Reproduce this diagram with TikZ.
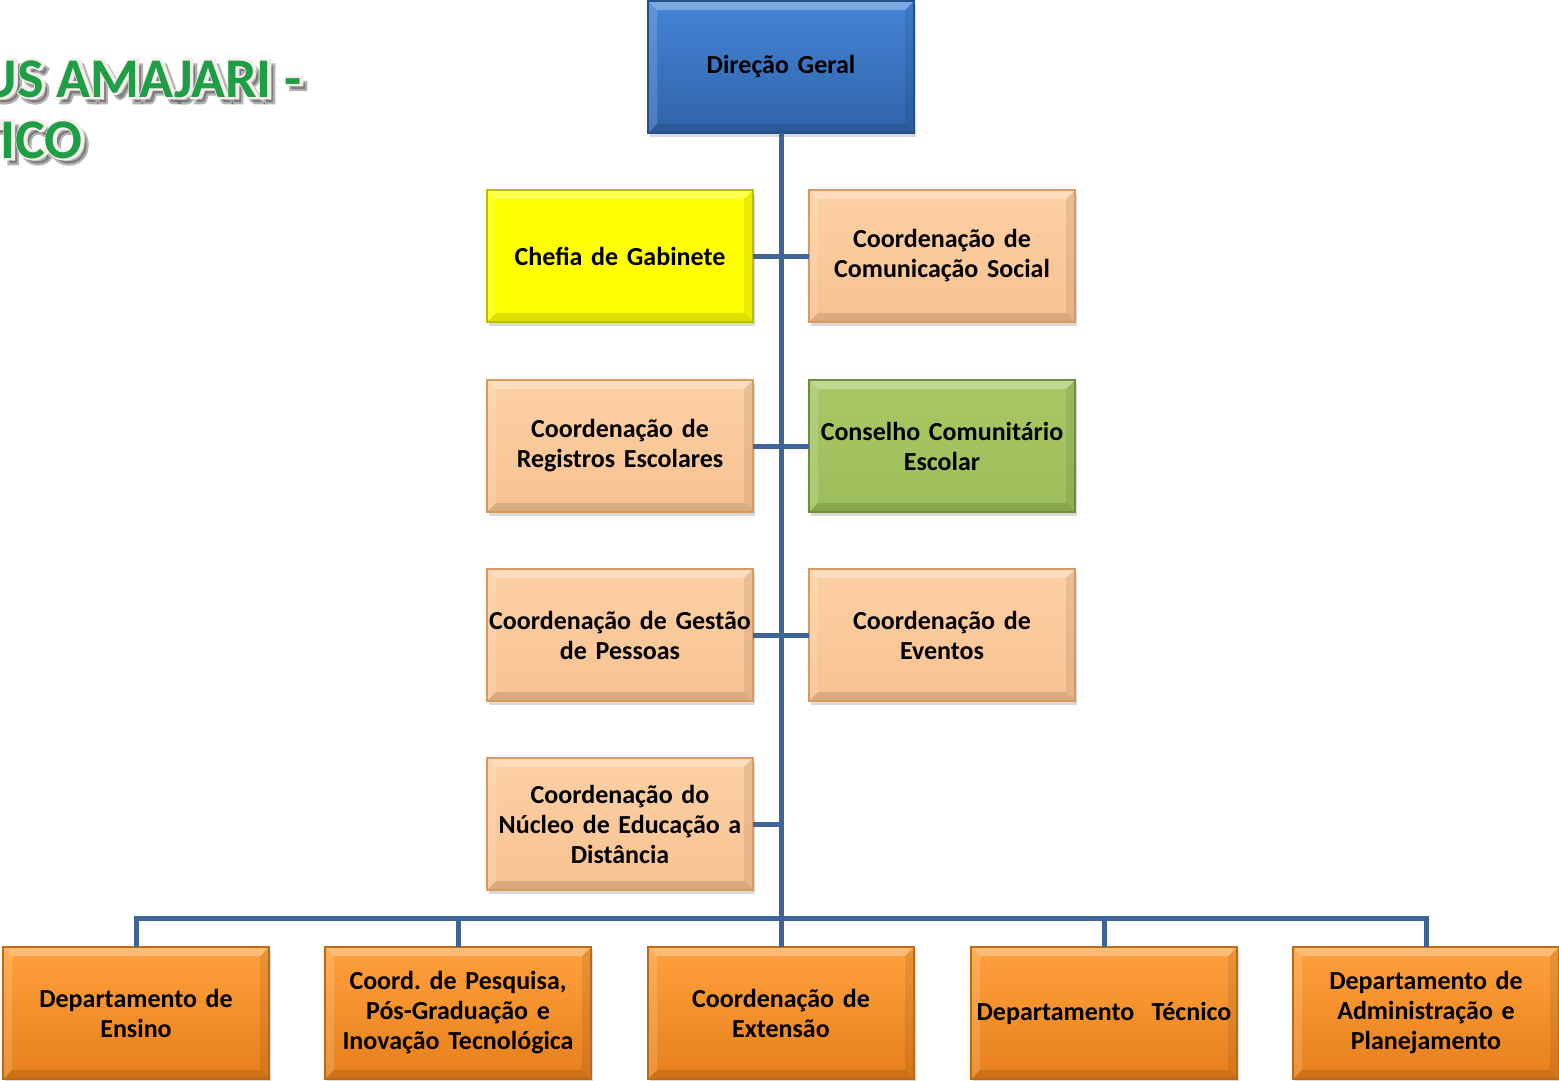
\documentclass[tikz,border=0pt]{standalone}
\usepackage{fontspec}
\setmainfont{Carlito}
\newfontfamily\titulofont[FakeBold=8]{Carlito Bold}
\frenchspacing
\usepackage{tikz}
\usetikzlibrary{shadows,calc}
\definecolor{linha}{HTML}{3F6598}
\definecolor{verdetit}{HTML}{1E9E45}
\tikzset{
  bisel/.style={path picture={
    \fill[white,opacity=0.3] (path picture bounding box.north west) -- (path picture bounding box.north east) -- ([shift={(-9pt,-9pt)}]path picture bounding box.north east) -- ([shift={(9pt,-9pt)}]path picture bounding box.north west) -- cycle;
    \fill[white,opacity=0.15] (path picture bounding box.north west) -- (path picture bounding box.south west) -- ([shift={(9pt,9pt)}]path picture bounding box.south west) -- ([shift={(9pt,-9pt)}]path picture bounding box.north west) -- cycle;
    \fill[black,opacity=0.12] (path picture bounding box.south west) -- (path picture bounding box.south east) -- ([shift={(-9pt,9pt)}]path picture bounding box.south east) -- ([shift={(9pt,9pt)}]path picture bounding box.south west) -- cycle;
    \fill[black,opacity=0.08] (path picture bounding box.north east) -- (path picture bounding box.south east) -- ([shift={(-9pt,9pt)}]path picture bounding box.south east) -- ([shift={(-9pt,-9pt)}]path picture bounding box.north east) -- cycle;
  }},
  caixa/.style={draw,line width=1.2pt,minimum width=266pt,minimum height=132pt,text width=264pt,align=center,inner sep=0pt,outer sep=0pt,font=\fontsize{26}{30}\selectfont\bfseries,drop shadow={shadow xshift=2pt,shadow yshift=-4pt,opacity=0.3},bisel},
  azul/.style={caixa,top color={rgb,255:red,68;green,132;blue,214},bottom color={rgb,255:red,48;green,100;blue,170},draw={rgb,255:red,36;green,80;blue,138}},
  amarela/.style={caixa,fill={rgb,255:red,255;green,255;blue,0},draw={rgb,255:red,189;green,189;blue,0}},
  pessego/.style={caixa,top color={rgb,255:red,252;green,208;blue,164},bottom color={rgb,255:red,248;green,194;blue,145},draw={rgb,255:red,216;green,154;blue,96}},
  verde/.style={caixa,top color={rgb,255:red,168;green,200;blue,102},bottom color={rgb,255:red,156;green,190;blue,90},draw={rgb,255:red,111;green,142;blue,58}},
  laranja/.style={caixa,top color={rgb,255:red,255;green,160;blue,60},bottom color={rgb,255:red,230;green,128;blue,28},draw={rgb,255:red,192;green,106;blue,16}},
  liga/.style={draw=linha,line width=5pt},
  titulo/.style={anchor=base east,inner sep=0pt,font=\fontsize{56}{56}\selectfont\titulofont},
}

\begin{document}
\begin{tikzpicture}[x=1pt,y=-1pt]
\useasboundingbox (0,0) rectangle (1559,1080);
% titulo (cortado na margem)
\foreach \t/\x/\y [count=\i] in {US AMAJARI -/303/97,TICO/84/158}{
  \node[titulo,text=black,opacity=0.3] (sombra\i) at (\x+4,\y+5) {\t};
  \node[titulo,text={rgb,255:red,246;green,236;blue,236}] (contorno\i) at (\x,\y) {\t};
}
\node[titulo,text=verdetit,font=\fontsize{56}{56}\selectfont\bfseries] (titulo1) at (303-1.2,97) {US AMAJARI -};
\node[titulo,text=verdetit,font=\fontsize{56}{56}\selectfont\bfseries] (titulo2) at (84-1.2,158) {TICO};

% caixas
\node[azul] (dg) at (781,67) {Direção Geral};
\node[amarela] (chefia) at (620,256) {Chefia de Gabinete};
\node[pessego] (comunic) at (942,256) {Coordenação de\\Comunicação Social};
\node[pessego] (registros) at (620,446) {Coordenação de\\Registros Escolares};
\node[verde] (conselho) at (942,446) {Conselho Comunitário\\Escolar};
\node[pessego] (pessoas) at (620,635) {Coordenação de Gestão\\de Pessoas};
\node[pessego] (eventos) at (942,635) {Coordenação de\\Eventos};
\node[pessego] (ead) at (620,824) {Coordenação do\\Núcleo de Educação a\\Distância};

\node[laranja] (ensino) at (136,1013) {Departamento de\\Ensino};
\node[laranja] (pesq) at (458,1013) {Coord. de Pesquisa,\\Pós-Graduação e\\Inovação Tecnológica};
\node[laranja] (ext) at (781,1013) {Coordenação de\\Extensão};
\node[laranja] (tec) at (1104,1013) {Departamento\ \ Técnico};
\node[laranja] (adm) at (1426,1013) {Departamento de\\Administração e\\Planejamento};

% ligacoes
\coordinate (bus) at (781,918);
\draw[liga] (dg.south) -- (bus);
\draw[liga] (ensino.north) |- (bus) -| (adm.north);
\foreach \n in {pesq,ext,tec} \draw[liga] (\n.north) -- (\n.north |- bus);
\draw[liga] (chefia.east) -- (comunic.west);
\draw[liga] (registros.east) -- (conselho.west);
\draw[liga] (pessoas.east) -- (eventos.west);
\draw[liga] (ead.east) -- (ead.east -| dg.south);
\end{tikzpicture}
\end{document}
